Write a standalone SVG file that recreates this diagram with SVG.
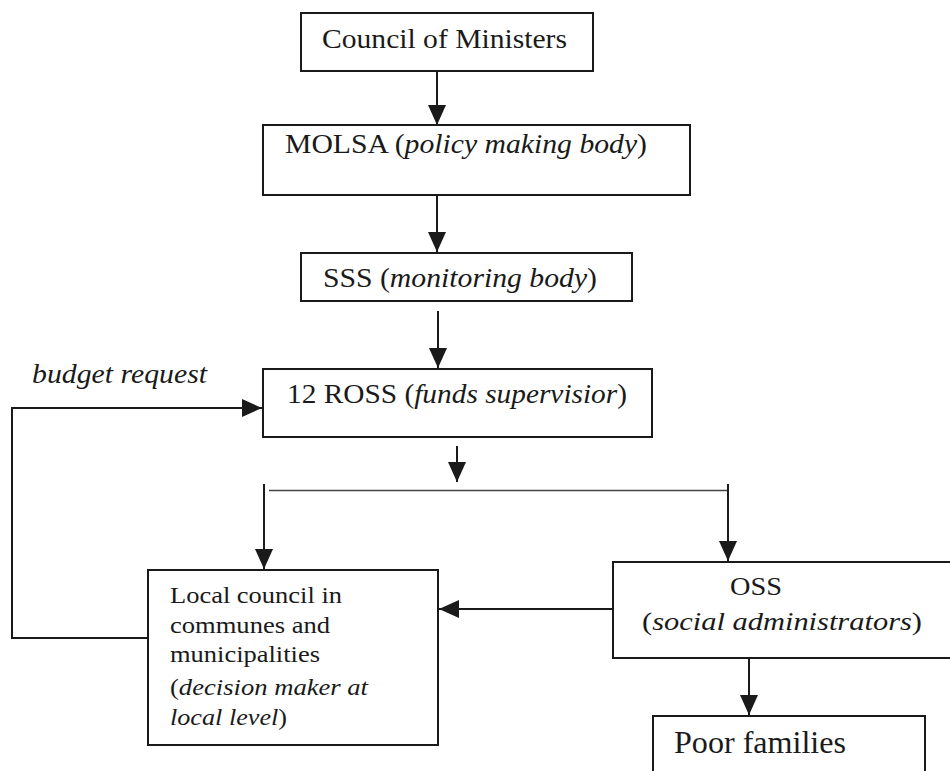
<svg xmlns="http://www.w3.org/2000/svg" width="950" height="771" viewBox="0 0 950 771">
<style>
.box{fill:#fff;stroke:#1a1a1a;stroke-width:2}
text{font-family:'Liberation Serif',serif;fill:#1a1a1a}
.i{font-style:italic}
.c{fill:none;stroke:#1a1a1a;stroke-width:2}
.thin{fill:none;stroke:#444;stroke-width:1.5}
</style>
<defs>
<marker id="ah" markerUnits="userSpaceOnUse" markerWidth="20" markerHeight="18" refX="20" refY="9" orient="auto">
<path d="M0,0 L20,9 L0,18 z" fill="#1a1a1a"/>
</marker>
</defs>
<rect width="950" height="771" fill="#fff"/>
<g id="connectors">
<path class="c" d="M437,71 V125" marker-end="url(#ah)"/>
<path class="c" d="M437,195 V252" marker-end="url(#ah)"/>
<path class="c" d="M438,311 V368" marker-end="url(#ah)"/>
<path class="c" d="M457,446 V482" marker-end="url(#ah)"/>
<path class="thin" d="M269,490.5 H728"/>
<path class="c" d="M264,484 V569" marker-end="url(#ah)"/>
<path class="c" d="M728,484 V561" marker-end="url(#ah)"/>
<path class="c" d="M613,609 H439" marker-end="url(#ah)"/>
<path class="c" d="M749,658 V715" marker-end="url(#ah)"/>
<path class="c" d="M148,638 H12 V408 H262" marker-end="url(#ah)"/>
<text class="i" x="32" y="383" font-size="27" textLength="175" lengthAdjust="spacingAndGlyphs">budget request</text>
</g>
<g id="council">
<rect class="box" x="301" y="13" width="292" height="58"/>
<text x="322" y="48" font-size="27" textLength="245" lengthAdjust="spacingAndGlyphs">Council of Ministers</text>
</g>
<g id="molsa">
<rect class="box" x="263" y="125" width="427" height="70"/>
<text x="285" y="153" font-size="27" textLength="362" lengthAdjust="spacingAndGlyphs">MOLSA (<tspan class="i">policy making body</tspan>)</text>
</g>
<g id="sss">
<rect class="box" x="301" y="253" width="331" height="48"/>
<text x="323" y="287" font-size="27" textLength="274" lengthAdjust="spacingAndGlyphs">SSS (<tspan class="i">monitoring body</tspan>)</text>
</g>
<g id="ross">
<rect class="box" x="263" y="369" width="389" height="68"/>
<text x="287" y="403" font-size="27" textLength="340" lengthAdjust="spacingAndGlyphs">12 ROSS (<tspan class="i">funds supervisior</tspan>)</text>
</g>
<g id="local">
<rect class="box" x="148" y="570" width="290" height="175"/>
<text x="170" y="603" font-size="24" textLength="172" lengthAdjust="spacingAndGlyphs">Local council in</text>
<text x="170" y="633" font-size="24" textLength="160" lengthAdjust="spacingAndGlyphs">communes and</text>
<text x="170" y="662" font-size="24" textLength="150" lengthAdjust="spacingAndGlyphs">municipalities</text>
<text x="170" y="695" font-size="24" textLength="198" lengthAdjust="spacingAndGlyphs">(<tspan class="i">decision maker at</tspan></text>
<text x="170" y="725" font-size="24" textLength="117" lengthAdjust="spacingAndGlyphs"><tspan class="i">local level</tspan>)</text>
</g>
<g id="oss">
<rect class="box" x="613" y="562" width="345" height="96"/>
<text x="730" y="595" font-size="26" textLength="52" lengthAdjust="spacingAndGlyphs">OSS</text>
<text x="642" y="630" font-size="26" textLength="280" lengthAdjust="spacingAndGlyphs">(<tspan class="i">social  administrators</tspan>)</text>
</g>
<g id="poor">
<rect class="box" x="653" y="716" width="272" height="70"/>
<text x="674" y="753" font-size="32" textLength="172" lengthAdjust="spacingAndGlyphs">Poor families</text>
</g>
</svg>
